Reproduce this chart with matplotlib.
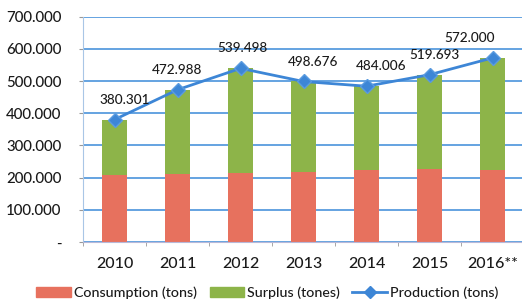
import matplotlib
matplotlib.use("Agg")
import matplotlib.pyplot as plt
from matplotlib.lines import Line2D
from matplotlib.patches import Patch
from matplotlib.ticker import FuncFormatter, FixedLocator

plt.rcParams['font.family'] = ['Lato', 'DejaVu Sans']

# data
years = ['2010', '2011', '2012', '2013', '2014', '2015', '2016**']
production = [380301, 472988, 539498, 498676, 484006, 519693, 572000]
consumption = [208000, 211000, 213000, 218000, 224000, 227000, 224000]
surplus = [p - c for p, c in zip(production, consumption)]
prod_labels = ['380.301', '472.988', '539.498', '498.676', '484.006', '519.693', '572.000']

red = '#e7715e'
green = '#8db449'
blue = '#3d86d6'
grid_blue = '#4a93dc'
text_col = '#1a1a1a'

fig = plt.figure(figsize=(5.22, 3.0), dpi=100)
ax = fig.add_axes([83 / 522, 58 / 300, 441 / 522, 225.3 / 300])

x = range(len(years))
ax.bar(x, consumption, width=0.41, color=red, zorder=2)
ax.bar(x, surplus, width=0.41, bottom=consumption, color=green, zorder=2)
ax.plot(x, production, color=blue, lw=2, marker='D', ms=7,
        markerfacecolor=blue, markeredgecolor='#5a9be0', zorder=3)

# value labels above the production points
label_dx = [10, 0, 2, 10, 15, 5, -23]
for i, (v, lab) in enumerate(zip(production, prod_labels)):
    ax.annotate(lab, (i, v), xytext=(label_dx[i] * 0.72, 10), textcoords='offset points',
                ha='center', va='bottom', fontsize=9.8, color=text_col, weight='medium')

ax.set_xlim(-0.5, 6.5)
ax.set_ylim(0, 700000)
ax.yaxis.set_major_locator(FixedLocator(range(0, 700001, 100000)))
ax.yaxis.set_major_formatter(FuncFormatter(
    lambda v, p: '-' if v == 0 else f'{v:,.0f}'.replace(',', '.')))
ax.set_xticks(list(x))
ax.set_xticklabels(years)
ax.xaxis.set_minor_locator(FixedLocator([i + 0.5 for i in range(-1, 7)]))
ax.tick_params(axis='x', which='major', length=0, pad=11, labelsize=11.5, labelcolor=text_col)
ax.tick_params(axis='x', which='minor', length=3, color='#999999')
ax.tick_params(axis='y', length=3, color='#999999', pad=12.5, labelsize=10.8, labelcolor=text_col)
for lab in ax.get_xticklabels() + ax.get_yticklabels():
    lab.set_fontweight('medium')

ax.grid(axis='y', color=grid_blue, lw=1.2, zorder=1)
ax.set_axisbelow(True)
for s in ['top', 'right']:
    ax.spines[s].set_visible(False)
ax.spines['left'].set_color('#a9c6e6')
ax.spines['bottom'].set_color('#b8b8d8')

handles = [Patch(color=red), Patch(color=green),
           Line2D([], [], color=blue, lw=2, marker='D', ms=6)]
leg = fig.legend(handles, ['Consumption (tons)', 'Surplus (tones)', 'Production (tons)'],
                 loc='center', bbox_to_anchor=(0.512, 0.025), ncol=3, frameon=False,
                 fontsize=10.3, handlelength=2.4, handleheight=0.7, columnspacing=0.9,
                 handletextpad=0.2, labelcolor=text_col)
for t in leg.get_texts():
    t.set_fontweight('medium')

fig.savefig('out.png', dpi=100, facecolor='white')
